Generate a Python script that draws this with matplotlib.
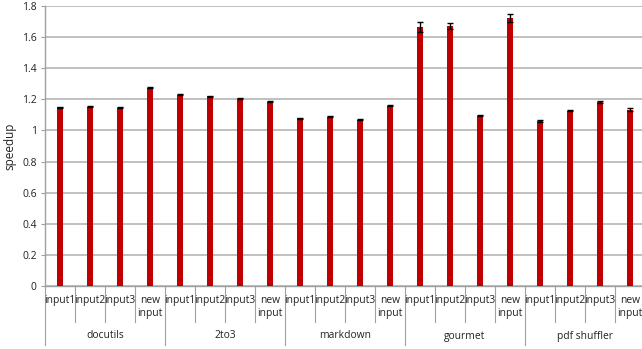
import matplotlib.pyplot as plt
import matplotlib.transforms as mtransforms

plt.rcParams['font.family'] = ['Open Sans', 'DejaVu Sans']

# data
groups = ['docutils', '2to3', 'markdown', 'gourmet', 'pdf shuffler']
inputs = ['input1', 'input2', 'input3', 'new\ninput']
speedup = [
    1.148, 1.153, 1.147, 1.275,   # docutils
    1.230, 1.220, 1.205, 1.185,   # 2to3
    1.078, 1.088, 1.070, 1.160,   # markdown
    1.665, 1.672, 1.094, 1.724,   # gourmet
    1.060, 1.127, 1.183, 1.132,   # pdf shuffler
]
errors = [
    0.004, 0.003, 0.004, 0.004,
    0.004, 0.003, 0.003, 0.004,
    0.004, 0.004, 0.004, 0.004,
    0.033, 0.019, 0.004, 0.025,
    0.004, 0.004, 0.005, 0.010,
]
yticks = [0, 0.2, 0.4, 0.6, 0.8, 1, 1.2, 1.4, 1.6, 1.8]

W, H = 642, 349
fig = plt.figure(figsize=(W / 100, H / 100), dpi=100)
ax = fig.add_axes([45 / W, (H - 286) / H, 600 / W, 280 / H])

n = len(speedup)
xs = list(range(n))
ax.bar(xs, speedup, width=0.2, color='#c00000', zorder=3,
       yerr=errors, capsize=2.2, error_kw=dict(ecolor='black', elinewidth=1, capthick=1))

ax.set_xlim(-0.5, n - 0.5)
ax.set_ylim(0, 1.8)
ax.set_yticks(yticks)
ax.set_yticklabels(['%g' % v for v in yticks], fontsize=7.5, color='#222222')
ax.yaxis.grid(True, color='#c0c0c0', linewidth=1.4, zorder=0)
ax.set_axisbelow(True)
ax.tick_params(axis='y', length=3, color='#a0a0a0', pad=3)
ax.set_xticks([])
for side in ['top', 'right']:
    ax.spines[side].set_visible(False)
for side in ['left', 'bottom']:
    ax.spines[side].set_color('#a0a0a0')
    ax.spines[side].set_linewidth(1)
ax.set_ylabel('speedup', fontsize=8.5, labelpad=4, color='#222222')

# two-level category axis
trans = mtransforms.blended_transform_factory(ax.transData, ax.transAxes)
def ay(py):
    return (286 - py) / 280.0

for i in range(n + 1):
    bottom = 345 if i % 4 == 0 else 322
    ax.plot([i - 0.5, i - 0.5], [0, ay(bottom)], transform=trans,
            color='#a0a0a0', linewidth=0.8, clip_on=False)

for i in range(n):
    lab = inputs[i % 4]
    ax.text(i, ay(295), lab, transform=trans, ha='center', va='top',
            fontsize=7.4, color='#222222', linespacing=1.2)

for g, name in enumerate(groups):
    ax.text(g * 4 + 1.5, ay(336), name, transform=trans, ha='center',
            va='center', fontsize=7.4, color='#222222')

fig.savefig('out.png', dpi=100)
